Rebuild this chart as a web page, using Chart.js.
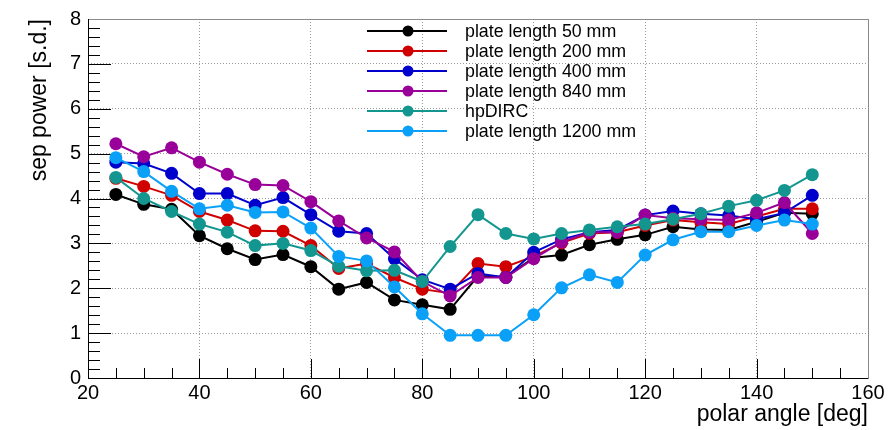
<!DOCTYPE html>
<html>
<head>
<meta charset="utf-8">
<script src="https://cdn.jsdelivr.net/npm/chart.js@4.4.0/dist/chart.umd.min.js"></script>
<style>
html,body{margin:0;padding:0;background:#fff}
canvas{display:block}
</style>
</head>
<body>
<canvas id="chart" width="893" height="430"></canvas>
<script>
// polar angle bins
const ANGLES = [25,30,35,40,45,50,55,60,65,70,75,80,85,90,95,100,105,110,115,120,125,130,135,140,145,150];

const SEP_50   = [4.09,3.87,3.76,3.17,2.88,2.64,2.75,2.48,1.98,2.13,1.74,1.63,1.53,2.27,2.25,2.68,2.74,2.97,3.09,3.19,3.37,3.31,3.30,3.48,3.68,3.66];
const SEP_200  = [4.45,4.27,4.07,3.71,3.52,3.28,3.27,2.95,2.44,2.55,2.24,1.98,1.89,2.55,2.48,2.71,3.01,3.22,3.25,3.40,3.52,3.47,3.43,3.60,3.77,3.77];
const SEP_400  = [4.81,4.78,4.56,4.11,4.11,3.85,4.02,3.64,3.27,3.22,2.66,2.19,1.98,2.33,2.24,2.80,3.09,3.25,3.30,3.63,3.72,3.66,3.62,3.54,3.68,4.07];
const SEP_840  = [5.22,4.93,5.13,4.81,4.54,4.31,4.29,3.93,3.50,3.12,2.81,2.15,1.83,2.24,2.24,2.66,3.03,3.25,3.25,3.63,3.56,3.54,3.52,3.68,3.91,3.22];
const SEP_HP   = [4.47,4.00,3.71,3.43,3.25,2.95,3.00,2.84,2.49,2.39,2.40,2.15,2.93,3.64,3.22,3.10,3.22,3.30,3.37,3.43,3.54,3.66,3.83,3.96,4.18,4.53];
const SEP_1200 = [4.91,4.60,4.16,3.77,3.85,3.69,3.70,3.34,2.71,2.61,2.03,1.43,0.95,0.95,0.95,1.41,2.01,2.30,2.13,2.74,3.08,3.26,3.26,3.40,3.52,3.43];

const LABELS = ["plate length 50 mm","plate length 200 mm","plate length 400 mm","plate length 840 mm","hpDIRC","plate length 1200 mm"];
const SERIES = [SEP_50, SEP_200, SEP_400, SEP_840, SEP_HP, SEP_1200];
const COLORS = ["#000000","#d00000","#0000cc","#990099","#12968f","#0aa0f8"];

const X_TICKS = [20,40,60,80,100,120,140,160];
const Y_TICKS = [0,1,2,3,4,5,6,7,8];

const FONT = "'Liberation Sans', Arial, sans-serif";

const datasets = SERIES.map((vals,i)=>({
  label: LABELS[i],
  data: vals.map((v,j)=>({x:ANGLES[j], y:v})),
  borderColor: COLORS[i],
  backgroundColor: COLORS[i],
  pointBackgroundColor: COLORS[i],
  pointBorderColor: COLORS[i],
  pointRadius: 6.5,
  pointBorderWidth: 0,
  borderWidth: 2,
  tension: 0,
  fill: false,
  order: SERIES.length - i
}));

// ROOT-like frame, inward ticks, titles, legend
const rootStyle = {
  id: "rootStyle",
  beforeDatasetsDraw(chart){
    const {ctx, chartArea:a, scales:{x, y}} = chart;
    ctx.save();
    ctx.strokeStyle = "#000";
    ctx.lineWidth = 1;
    ctx.beginPath();
    for(let v=20; v<=160; v+=5){
      const px = Math.round(x.getPixelForValue(v)) + 0.5;
      const len = (v % 20 === 0) ? 19 : 10;
      ctx.moveTo(px, a.bottom); ctx.lineTo(px, a.bottom - len);
    }
    for(let k=0; k<=40; k++){
      const v = k*0.2;
      const py = Math.round(y.getPixelForValue(v)) + 0.5;
      const len = (k % 5 === 0) ? 23 : 12;
      ctx.moveTo(a.left, py); ctx.lineTo(a.left + len, py);
    }
    ctx.stroke();
    // top / right frame
    ctx.strokeStyle = "#8a8a8a";
    ctx.beginPath();
    ctx.moveTo(a.left, a.top + 0.5); ctx.lineTo(a.right + 0.5, a.top + 0.5);
    ctx.lineTo(a.right + 0.5, a.bottom);
    ctx.stroke();
    // axes
    ctx.strokeStyle = "#000";
    ctx.beginPath();
    ctx.moveTo(a.left + 0.5, a.top); ctx.lineTo(a.left + 0.5, a.bottom + 0.5);
    ctx.lineTo(a.right + 0.5, a.bottom + 0.5);
    ctx.stroke();
    ctx.restore();
  },
  afterDraw(chart){
    const {ctx, chartArea:a} = chart;
    ctx.save();
    ctx.fillStyle = "#000";
    // axis titles
    ctx.font = "23px " + FONT;
    ctx.textAlign = "right";
    ctx.textBaseline = "alphabetic";
    ctx.fillText("polar angle [deg]", a.right, 421);
    ctx.translate(46, a.top);
    ctx.rotate(-Math.PI/2);
    ctx.fillText("sep power [s.d.]", 0, 0);
    ctx.restore();

    // legend
    ctx.save();
    ctx.font = "17.8px " + FONT;
    ctx.textAlign = "left";
    ctx.textBaseline = "middle";
    chart.data.datasets.forEach((ds,i)=>{
      const yy = 31 + 20*i;
      ctx.strokeStyle = ds.borderColor;
      ctx.lineWidth = 2;
      ctx.beginPath(); ctx.moveTo(367, yy); ctx.lineTo(447, yy); ctx.stroke();
      ctx.fillStyle = ds.borderColor;
      ctx.beginPath(); ctx.arc(408, yy, 5.5, 0, Math.PI*2); ctx.fill();
      ctx.fillStyle = "#000";
      ctx.fillText(ds.label, 465, yy + 1);
    });
    ctx.restore();
  }
};

new Chart(document.getElementById("chart"), {
  type: "line",
  data: { datasets },
  options: {
    responsive: false,
    animation: false,
    layout: { padding: { top: 14, right: 25, left: 0, bottom: 0 } },
    plugins: { legend: { display: false }, tooltip: { enabled: false } },
    scales: {
      x: {
        type: "linear", min: 20, max: 160,
        afterBuildTicks: s => { s.ticks = X_TICKS.map(v=>({value:v})); },
        afterFit: s => { s.height = 52; },
        ticks: { color: "#000", font: { family: FONT, size: 20 }, padding: 3, maxRotation: 0, autoSkip: false },
        grid: { color: "#9a9a9a", lineWidth: 1, drawTicks: false },
        border: { display: false, dash: [1,2] }
      },
      y: {
        type: "linear", min: 0, max: 8,
        afterBuildTicks: s => { s.ticks = Y_TICKS.map(v=>({value:v})); },
        afterFit: s => { s.width = 88; },
        ticks: { color: "#000", font: { family: FONT, size: 20 }, padding: 7, autoSkip: false },
        grid: { color: "#9a9a9a", lineWidth: 1, drawTicks: false },
        border: { display: false, dash: [1,2] }
      }
    }
  },
  plugins: [rootStyle]
});
</script>
</body>
</html>
